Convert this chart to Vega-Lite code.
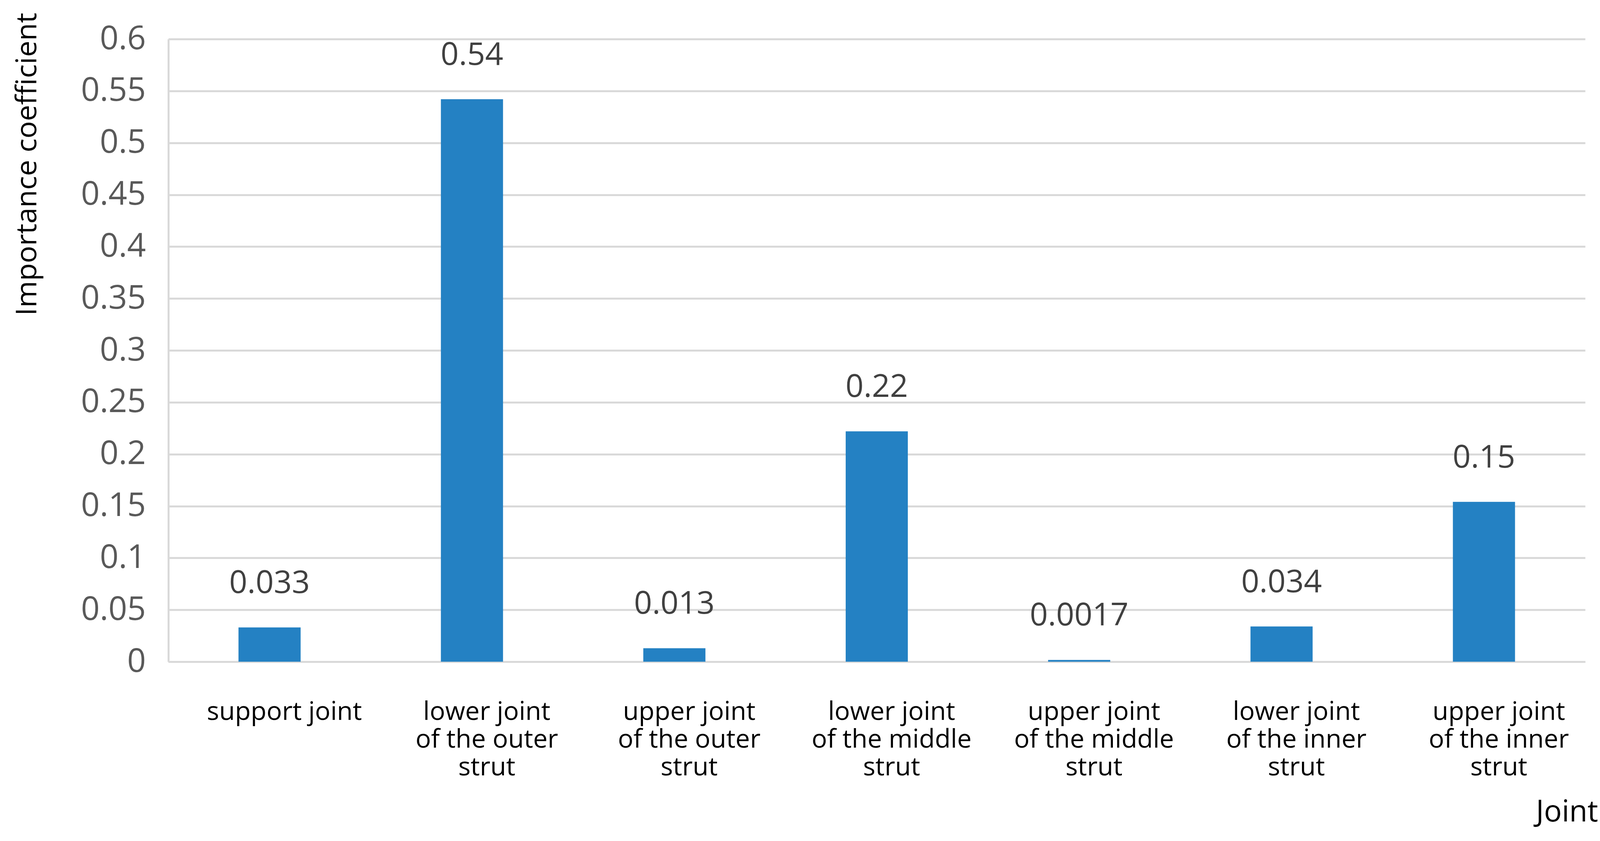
{
  "$schema": "https://vega.github.io/schema/vega-lite/v6.json",
  "width": 3627,
  "height": 1594,
  "autosize": {"type": "none"},
  "padding": {"left": 431, "top": 100, "right": 92, "bottom": 459},
  "background": "white",
  "config": {
    "view": {"stroke": null},
    "font": "Open Sans"
  },
  "data": {
    "values": [
      {"joint": "support joint", "value": 0.033, "label": "0.033"},
      {"joint": "lower joint|of the outer|strut", "value": 0.542, "label": "0.54"},
      {"joint": "upper joint|of the outer|strut", "value": 0.013, "label": "0.013"},
      {"joint": "lower joint|of the middle|strut", "value": 0.222, "label": "0.22"},
      {"joint": "upper joint|of the middle|strut", "value": 0.0017, "label": "0.0017"},
      {"joint": "lower joint|of the inner|strut", "value": 0.034, "label": "0.034"},
      {"joint": "upper joint|of the inner|strut", "value": 0.154, "label": "0.15"}
    ]
  },
  "encoding": {
    "x": {
      "field": "joint",
      "type": "nominal",
      "sort": null,
      "scale": {"paddingInner": 0.693, "paddingOuter": 0.3465},
      "axis": {
        "title": "Joint",
        "titleFont": "Open Sans",
        "titleFontSize": 76,
        "titleFontWeight": "normal",
        "titleColor": "#000000",
        "titleX": 3580,
        "titleY": 385,
        "titleAlign": "center",
        "titleBaseline": "middle",
        "labelExpr": "split(datum.label, '|')",
        "labelAngle": 0,
        "labelFontSize": 66,
        "labelLineHeight": 71,
        "labelColor": "#000000",
        "labelBaseline": "top",
        "labelPadding": 96,
        "labelOffset": 38,
        "labelLimit": 0,
        "ticks": false,
        "domainColor": "#d9d9d9",
        "domainWidth": 5,
        "grid": false
      }
    },
    "y": {
      "field": "value",
      "type": "quantitative",
      "scale": {"domain": [0, 0.6], "nice": false},
      "axis": {
        "title": "Importance coefficient",
        "titleFontSize": 74,
        "titleFontWeight": "normal",
        "titleColor": "#000000",
        "titleAngle": -90,
        "titleX": -361,
        "titleY": -68,
        "titleAlign": "right",
        "titleBaseline": "middle",
        "values": [0, 0.05, 0.1, 0.15, 0.2, 0.25, 0.3, 0.35, 0.4, 0.45, 0.5, 0.55, 0.6],
        "format": "~g",
        "labelFontSize": 84,
        "labelColor": "#595959",
        "labelPadding": 58,
        "ticks": false,
        "domainColor": "#d9d9d9",
        "domainWidth": 5,
        "grid": true,
        "gridColor": "#d9d9d9",
        "gridWidth": 5
      }
    }
  },
  "layer": [
    {
      "mark": {"type": "bar", "color": "#2481c3"}
    },
    {
      "mark": {"type": "text", "baseline": "middle", "dy": -112, "fontSize": 81, "color": "#404040"},
      "encoding": {"text": {"field": "label"}}
    }
  ]
}
